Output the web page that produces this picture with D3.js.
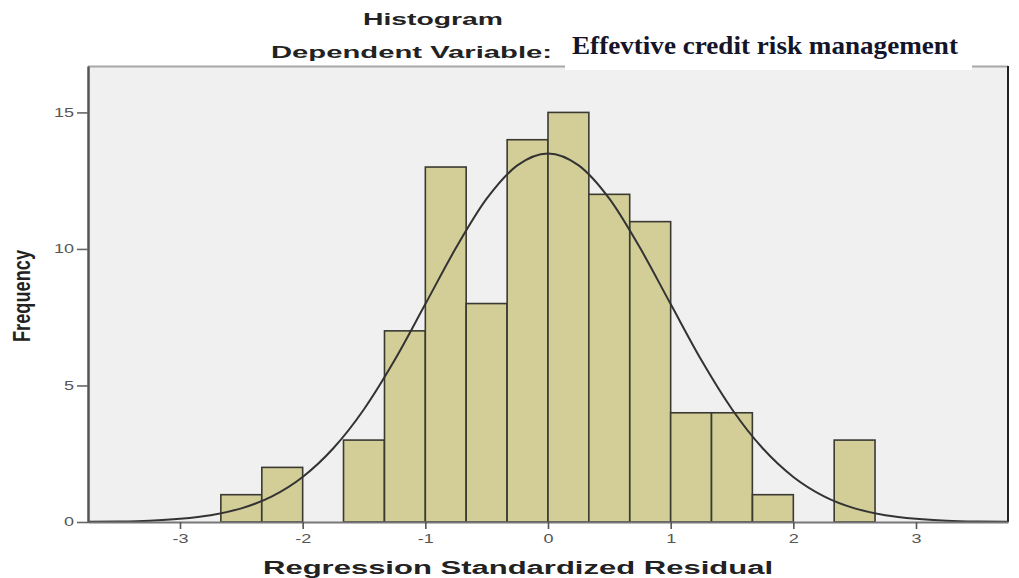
<!DOCTYPE html>
<html>
<head>
<meta charset="utf-8">
<script src="https://cdn.jsdelivr.net/npm/d3@7"></script>
<style>
  html, body { margin: 0; padding: 0; background: #fff; }
  svg { display: block; }
</style>
</head>
<body>
<svg width="1019" height="578"></svg>
<script>
// histogram bins (lower edge, width = 1/3) and counts
const binLower = [-2.667, -2.333, -2, -1.667, -1.333, -1, -0.667, -0.333, 0, 0.333, 0.667, 1, 1.333, 1.667, 2, 2.333];
const binWidth = 0.333;
const counts = [1, 2, 0, 3, 7, 13, 8, 14, 15, 12, 11, 4, 4, 1, 0, 3];

// normal curve as it appears on the chart
const curveX = [-3.75, -3.5, -3.25, -3, -2.75, -2.5, -2.25, -2, -1.75, -1.5, -1.25, -1, -0.75, -0.5, -0.25, 0,
  0.25, 0.5, 0.75, 1, 1.25, 1.5, 1.75, 2, 2.25, 2.5, 2.75, 3, 3.25, 3.5, 3.75];
const curveY = [0.01, 0.02, 0.05, 0.12, 0.25, 0.5, 0.94, 1.65, 2.7, 4.13, 5.93, 7.98, 10.04, 11.84, 13.06, 13.5,
  13.06, 11.84, 10.04, 7.98, 5.93, 4.13, 2.7, 1.65, 0.94, 0.5, 0.25, 0.12, 0.05, 0.02, 0.01];

const xTicks = [-3, -2, -1, 0, 1, 2, 3];
const yTicks = [0, 5, 10, 15];

const titleText = "Histogram";
const subtitleText = "Dependent Variable:";
const variableText = "Effevtive credit risk management";
const xLabel = "Regression Standardized Residual";
const yLabel = "Frequency";

const margin = { top: 66, right: 11, bottom: 56, left: 88 };

const svg = d3.select("svg");
const width = +svg.attr("width") - margin.left - margin.right;
const height = +svg.attr("height") - margin.top - margin.bottom;

const x = d3.scaleLinear()
  .domain([-3.75, 3.75])
  .range([margin.left, margin.left + width]);

const y = d3.scaleLinear()
  .domain([0, 16.7])
  .range([margin.top + height, margin.top]);

// stretch text horizontally (the original picture is widened)
const stretch = (sel, k) => {
  sel.each(function () {
    const w = this.getComputedTextLength();
    d3.select(this)
      .attr("textLength", w * k)
      .attr("lengthAdjust", "spacingAndGlyphs");
  });
};

// plot background
svg.append("rect")
  .attr("x", margin.left)
  .attr("y", margin.top)
  .attr("width", width)
  .attr("height", height)
  .attr("fill", "#f0f0f0");

// bars
const bins = binLower.map((lo, i) => ({ lo, hi: lo + binWidth, n: counts[i] }))
  .filter(d => d.n > 0);

svg.append("g")
  .attr("id", "bars")
  .selectAll("rect")
  .data(bins)
  .join("rect")
  .attr("x", d => x(d.lo))
  .attr("y", d => y(d.n))
  .attr("width", d => x(d.hi) - x(d.lo))
  .attr("height", d => y(0) - y(d.n))
  .attr("fill", "#d3ce98")
  .attr("stroke", "#3a3a32")
  .attr("stroke-width", 1.6);

// normal curve
const line = d3.line()
  .x(d => x(d[0]))
  .y(d => y(d[1]))
  .curve(d3.curveMonotoneX);

svg.append("path")
  .datum(curveX.map((v, i) => [v, curveY[i]]))
  .attr("fill", "none")
  .attr("stroke", "#333")
  .attr("stroke-width", 2)
  .attr("d", line);

// frame
svg.append("line")
  .attr("x1", margin.left).attr("x2", margin.left + width)
  .attr("y1", margin.top + 0.5).attr("y2", margin.top + 0.5)
  .attr("stroke", "#a8a8a8").attr("stroke-width", 2);

svg.append("line")
  .attr("x1", margin.left + width).attr("x2", margin.left + width)
  .attr("y1", margin.top).attr("y2", margin.top + height)
  .attr("stroke", "#222").attr("stroke-width", 2);

// axes
const xAxis = svg.append("g")
  .attr("transform", `translate(0,${margin.top + height})`)
  .call(d3.axisBottom(x).tickValues(xTicks).tickSize(7).tickSizeOuter(0).tickPadding(5).tickFormat(d3.format("d")));

xAxis.select(".domain").attr("stroke", "#777").attr("stroke-width", 2);
xAxis.selectAll(".tick line").attr("stroke", "#555").attr("stroke-width", 1.6);
xAxis.selectAll(".tick text")
  .attr("fill", "#555")
  .style("font", "12px 'Liberation Sans', Arial, sans-serif")
  .text(d => d < 0 ? "-" + Math.abs(d) : d)
  .call(stretch, 1.5);

const yAxis = svg.append("g")
  .attr("transform", `translate(${margin.left},0)`)
  .call(d3.axisLeft(y).tickValues(yTicks).tickSize(11).tickSizeOuter(0).tickPadding(3));

yAxis.select(".domain").attr("stroke", "#555").attr("stroke-width", 2.5);
yAxis.selectAll(".tick line").attr("stroke", "#666").attr("stroke-width", 1.6);
yAxis.selectAll(".tick text")
  .attr("fill", "#555")
  .style("font", "12px 'Liberation Sans', Arial, sans-serif")
  .call(stretch, 1.5);

// axis titles
svg.append("text")
  .attr("x", 518)
  .attr("y", 574)
  .attr("text-anchor", "middle")
  .attr("fill", "#222")
  .style("font", "bold 18px 'Liberation Sans', Arial, sans-serif")
  .attr("textLength", 510)
  .attr("lengthAdjust", "spacingAndGlyphs")
  .text(xLabel);

svg.append("text")
  .attr("transform", "translate(30,296) scale(1.45,1) rotate(-90)")
  .attr("text-anchor", "middle")
  .attr("fill", "#222")
  .style("font", "bold 16px 'Liberation Sans', Arial, sans-serif")
  .attr("textLength", 92)
  .attr("lengthAdjust", "spacingAndGlyphs")
  .text(yLabel);

// titles
svg.append("text")
  .attr("x", 433)
  .attr("y", 25)
  .attr("text-anchor", "middle")
  .attr("fill", "#222")
  .style("font", "bold 17px 'Liberation Sans', Arial, sans-serif")
  .attr("textLength", 140)
  .attr("lengthAdjust", "spacingAndGlyphs")
  .text(titleText);

svg.append("text")
  .attr("x", 271)
  .attr("y", 58)
  .attr("fill", "#222")
  .style("font", "bold 17px 'Liberation Sans', Arial, sans-serif")
  .attr("textLength", 281)
  .attr("lengthAdjust", "spacingAndGlyphs")
  .text(subtitleText);

// pasted label box over the frame
svg.append("rect")
  .attr("x", 565)
  .attr("y", 28)
  .attr("width", 407)
  .attr("height", 42)
  .attr("fill", "#fff");

svg.append("text")
  .attr("x", 572)
  .attr("y", 54)
  .attr("fill", "#15152a")
  .style("font", "bold 26px 'Liberation Serif', 'Times New Roman', serif")
  .attr("textLength", 386)
  .attr("lengthAdjust", "spacingAndGlyphs")
  .text(variableText);
</script>
</body>
</html>
